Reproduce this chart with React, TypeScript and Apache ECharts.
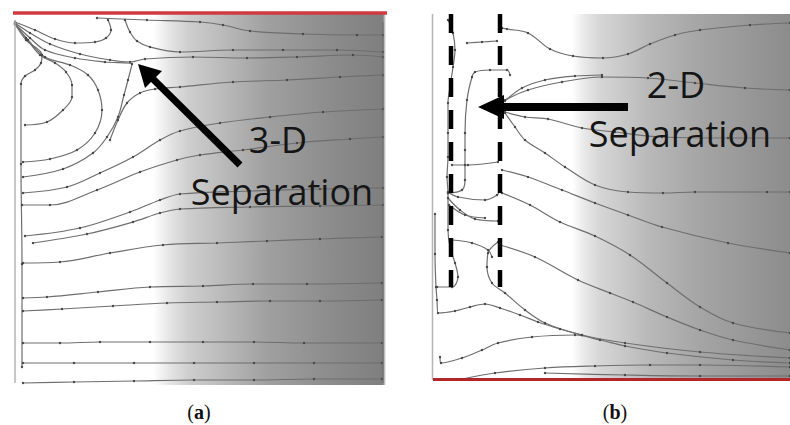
import React, { useEffect, useRef } from "react";
import * as echarts from "echarts";

type Pt = [number, number];

// ---------- Panel (a): 3-D separation (units: from the panel's top-left corner, y downwards) ----------
const aTopA: Pt[] = [[83, 4], [133, 6], [186, 8], [209, 11], [236, 17], [289, 20], [343, 21], [369, 21]];
const aTopB: Pt[] = [[111, 6], [116, 18], [123, 27], [136, 33], [166, 38], [219, 36], [269, 36], [323, 36], [369, 38]];
const aCornerLoop: Pt[] = [[94, 6], [97, 16], [92, 24], [81, 28], [61, 29], [41, 25], [21, 16], [1, 8]];
const aSaddleUpper: Pt[] = [[1, 9], [16, 19], [36, 30], [66, 40], [96, 46], [116, 48], [131, 45], [179, 43], [233, 44], [283, 43], [339, 41], [369, 43]];
const aSaddleLower: Pt[] = [[1, 10], [16, 24], [31, 36], [61, 44], [91, 48], [118, 50], [114, 66], [110, 81], [104, 103], [93, 123], [79, 139], [49, 155], [9, 163]];
const aLoopInner: Pt[] = [[1, 10], [12, 24], [26, 41], [41, 49], [52, 58], [58, 71], [58, 83], [49, 96], [33, 108], [11, 111]];
const aLoopOuter: Pt[] = [[1, 10], [14, 26], [31, 43], [56, 51], [74, 61], [84, 76], [88, 96], [81, 119], [63, 136], [36, 145], [9, 148]];
const aWallLine: Pt[] = [[1, 10], [12, 26], [28, 41], [27, 49], [21, 56], [11, 62], [7, 70], [7, 150], [8, 250], [8, 353]];
const aBranch: Pt[] = [[96, 126], [104, 106], [113, 89], [126, 79], [141, 75], [166, 73], [219, 68], [273, 66], [326, 63], [369, 61]];
const aMid1: Pt[] = [[9, 179], [53, 173], [86, 159], [119, 143], [146, 126], [166, 117], [206, 109], [256, 103], [309, 98], [369, 95]];
const aMid2: Pt[] = [[8, 191], [36, 191], [83, 176], [126, 158], [163, 146], [186, 141], [229, 136], [283, 129], [336, 125], [369, 123]];
const aMid3: Pt[] = [[11, 222], [66, 214], [116, 198], [146, 186], [166, 180], [236, 177], [306, 175], [369, 174]];
const aMid4: Pt[] = [[19, 229], [73, 220], [119, 208], [146, 199], [166, 195], [236, 193], [306, 192], [369, 191]];
const aLow1: Pt[] = [[9, 249], [46, 248], [96, 239], [149, 231], [203, 229], [253, 227], [306, 225], [368, 223]];
const aLow2: Pt[] = [[9, 284], [33, 283], [84, 278], [136, 273], [189, 272], [239, 270], [293, 270], [368, 269]];
const aLow3: Pt[] = [[9, 297], [48, 295], [99, 292], [153, 289], [203, 288], [256, 287], [306, 287], [368, 286]];
const aLow4: Pt[] = [[9, 329], [46, 329], [86, 328], [136, 328], [189, 328], [240, 328], [290, 329], [368, 329]];
const aLow5: Pt[] = [[9, 349], [60, 349], [120, 349], [180, 349], [240, 349], [300, 349], [368, 349]];
const aLow6: Pt[] = [[9, 369], [60, 368], [120, 367], [180, 366], [240, 366], [300, 365], [368, 365]];
const aLeftWall: Pt[] = [[1, 6], [1, 369]];
const aRightEdge: Pt[] = [[369, 8], [369, 369]];
const aHeatedWall: Pt[] = [[-1, -1], [373, -1]];

// ---------- Panel (b): 2-D separation ----------
const bTopHook: Pt[] = [[35, 29], [50, 28], [65, 27]];
const bTop: Pt[] = [[70, 14], [75, 15], [96, 19], [118, 35], [141, 42], [171, 44], [196, 40], [218, 30], [243, 21], [268, 16], [318, 11], [358, 9]];
const bUpper: Pt[] = [[73, 86], [96, 76], [130, 68], [170, 63], [216, 64], [263, 69], [313, 74], [358, 76]];
const bUpperB: Pt[] = [[73, 87], [90, 74], [113, 66], [143, 62], [170, 61]];
const bFan1: Pt[] = [[73, 98], [93, 103], [116, 105], [150, 114], [183, 118], [230, 123], [296, 124], [358, 124]];
const bFan2: Pt[] = [[73, 99], [83, 113], [93, 126], [113, 139], [133, 153], [163, 171], [196, 178], [231, 179], [263, 178], [335, 178], [358, 178]];
const bMid1: Pt[] = [[70, 156], [96, 163], [130, 176], [163, 189], [196, 201], [230, 213], [296, 229], [358, 239]];
const bMid2: Pt[] = [[70, 179], [98, 191], [128, 208], [163, 222], [198, 241], [235, 269], [268, 293], [301, 309], [358, 319]];
const bMid3: Pt[] = [[68, 231], [103, 243], [146, 266], [178, 279], [201, 288], [235, 303], [268, 316], [301, 326], [358, 336]];
const bLow1: Pt[] = [[66, 228], [56, 239], [55, 253], [60, 269], [73, 279], [93, 296], [113, 309], [150, 321], [193, 329], [268, 338], [358, 344]];
const bLow2: Pt[] = [[3, 200], [3, 240], [4, 273], [5, 286], [6, 299], [23, 297], [38, 293], [53, 290], [68, 294], [88, 301], [106, 308], [128, 315], [150, 321]];
const bLow3: Pt[] = [[8, 343], [9, 349], [30, 344], [50, 336], [66, 329], [100, 323], [143, 321], [168, 326], [193, 332], [235, 339], [301, 346], [358, 349]];
const bLow4: Pt[] = [[30, 365], [63, 359], [113, 354], [163, 352], [218, 351], [268, 351], [358, 353]];
const bLow5: Pt[] = [[113, 359], [193, 361], [268, 362], [358, 362]];
const bBubbleOuter: Pt[] = [[16, 6], [21, 19], [23, 36], [21, 53], [18, 73], [16, 89], [16, 119], [16, 143], [15, 163], [16, 179], [16, 216], [18, 233], [23, 249], [26, 263], [20, 273], [5, 273]];
const bBubbleInner: Pt[] = [[78, 61], [75, 56], [58, 56], [43, 58], [40, 63], [35, 86], [33, 119], [33, 136], [33, 151], [33, 166], [30, 176], [16, 179]];
const bCell1: Pt[] = [[20, 151], [36, 151], [66, 148]];
const bCell2: Pt[] = [[16, 178], [26, 183], [53, 186], [65, 181], [68, 176]];
const bCell3: Pt[] = [[16, 184], [28, 196], [43, 205], [66, 207]];
const bCell4: Pt[] = [[17, 191], [33, 201], [53, 204]];
const bCell5: Pt[] = [[20, 226], [40, 229], [56, 236], [60, 243]];
const bDashLeft: Pt[] = [[19, 0], [19, 273]];
const bDashRight: Pt[] = [[68, 0], [68, 273]];
const bLeftWall: Pt[] = [[0.5, 0], [0.5, 366]];
const bHeatedWall: Pt[] = [[1, 365.5], [358, 365.5]];

const panelAStreams = [aTopA, aTopB, aCornerLoop, aSaddleUpper, aSaddleLower, aLoopInner, aLoopOuter, aWallLine, aBranch, aMid1, aMid2, aMid3, aMid4, aLow1, aLow2, aLow3, aLow4, aLow5, aLow6];
const panelBStreams = [bTopHook, bTop, bUpper, bUpperB, bFan1, bFan2, bMid1, bMid2, bMid3, bLow1, bLow2, bLow3, bLow4, bLow5, bBubbleOuter, bBubbleInner, bCell1, bCell2, bCell3, bCell4, bCell5];

const labelsA = ["3-D", "Separation"];
const labelsB = ["2-D", "Separation"];
const captions = ["a", "b"];

const TEXT_FONT = '36px "Open Sans"';

export default function App() {
  const ref = useRef<HTMLDivElement>(null);

  useEffect(() => {
    document.body.style.margin = "0";
    const chart = echarts.init(ref.current as HTMLDivElement, null, { renderer: "svg" });

    const stream = (data: Pt[], g: number) => ({
      type: "line",
      xAxisIndex: g,
      yAxisIndex: g,
      data,
      smooth: 0.35,
      symbol: "circle",
      symbolSize: 2.4,
      showSymbol: true,
      silent: true,
      clip: false,
      lineStyle: { color: "#6e6e6e", width: 1.2 },
      itemStyle: { color: "#454545" },
      z: 3,
    });
    const plain = (data: Pt[], g: number, color: string, width: number, z = 4, type: any = "solid") => ({
      type: "line",
      xAxisIndex: g,
      yAxisIndex: g,
      data,
      smooth: false,
      showSymbol: false,
      symbol: "none",
      silent: true,
      clip: false,
      lineStyle: { color, width, type, cap: "butt" },
      z,
    });

    const gradA = new echarts.graphic.LinearGradient(0, 0, 1, 0, [
      { offset: 0, color: "#ffffff" },
      { offset: 0.374, color: "#ffffff" },
      { offset: 0.42, color: "#e4e4e4" },
      { offset: 0.47, color: "#cecece" },
      { offset: 0.68, color: "#a0a0a0" },
      { offset: 0.86, color: "#8b8b8b" },
      { offset: 0.992, color: "#7f7f7f" },
      { offset: 1, color: "#ffffff" },
    ]);
    const gradB = new echarts.graphic.LinearGradient(0, 0, 1, 0, [
      { offset: 0, color: "#ffffff" },
      { offset: 0.391, color: "#ffffff" },
      { offset: 0.427, color: "#e8e8e8" },
      { offset: 0.469, color: "#d6d6d6" },
      { offset: 0.609, color: "#b8b8b8" },
      { offset: 0.749, color: "#a5a5a5" },
      { offset: 1, color: "#8c8c8c" },
    ]);

    const series: any[] = [];
    panelAStreams.forEach((s) => series.push(stream(s, 0)));
    panelBStreams.forEach((s) => series.push(stream(s, 1)));
    series.push(plain(aLeftWall, 0, "#b5b5b5", 1.5));
    series.push(plain(aRightEdge, 0, "#6e6e6e", 1));
    series.push(plain(aHeatedWall, 0, "#cf3a40", 3.5, 6));
    series.push(plain(bLeftWall, 1, "#b5b5b5", 1.5));
    series.push(plain(bHeatedWall, 1, "#b0262b", 3, 6));
    series.push(plain(bDashLeft, 1, "#000", 4.5, 7, [19, 13]));
    series.push(plain(bDashRight, 1, "#000", 4.5, 7, [19, 13]));

    const text = (t: string, x: number, y: number) => ({
      type: "text",
      x,
      y,
      z: 20,
      silent: true,
      style: { text: t, font: TEXT_FONT, fill: "#151515", align: "center", verticalAlign: "middle" },
    });
    const caption = (c: string, x: number) => ({
      type: "text",
      x,
      y: 412,
      z: 20,
      silent: true,
      style: {
        text: `{p|(}{b|${c}}{p|)}`,
        align: "center",
        verticalAlign: "middle",
        rich: {
          p: { font: '20px "Liberation Serif"', fill: "#111" },
          b: { font: 'bold 20px "Liberation Serif"', fill: "#111" },
        },
      },
    });

    const option: any = {
      animation: false,
      backgroundColor: "#ffffff",
      grid: [
        { left: 14, top: 14, width: 372, height: 371, show: true, borderWidth: 0, backgroundColor: gradA },
        { left: 432, top: 14, width: 358, height: 366, show: true, borderWidth: 0, backgroundColor: gradB },
      ],
      xAxis: [
        { type: "value", gridIndex: 0, min: 0, max: 372, show: false },
        { type: "value", gridIndex: 1, min: 0, max: 358, show: false },
      ],
      yAxis: [
        { type: "value", gridIndex: 0, min: 0, max: 371, inverse: true, show: false },
        { type: "value", gridIndex: 1, min: 0, max: 366, inverse: true, show: false },
      ],
      tooltip: { show: false },
      series,
      graphic: [
        // arrow (a)
        { type: "line", z: 18, silent: true, shape: { x1: 240, y1: 165, x2: 151, y2: 77 }, style: { stroke: "#000", lineWidth: 7 } },
        { type: "polygon", z: 18, silent: true, shape: { points: [[138, 64], [162, 71], [145, 88]] }, style: { fill: "#000" } },
        // arrow (b)
        { type: "line", z: 18, silent: true, shape: { x1: 628, y1: 107, x2: 500, y2: 107 }, style: { stroke: "#000", lineWidth: 8 } },
        { type: "polygon", z: 18, silent: true, shape: { points: [[478, 107], [504, 95], [504, 119]] }, style: { fill: "#000" } },
        text(labelsA[0], 278, 139),
        text(labelsA[1], 282, 191),
        text(labelsB[0], 676, 84),
        text(labelsB[1], 680, 133),
        caption(captions[0], 199),
        caption(captions[1], 615),
      ],
    };

    chart.setOption(option);
    return () => chart.dispose();
  }, []);

  return <div ref={ref} style={{ width: 790, height: 425 }} />;
}
